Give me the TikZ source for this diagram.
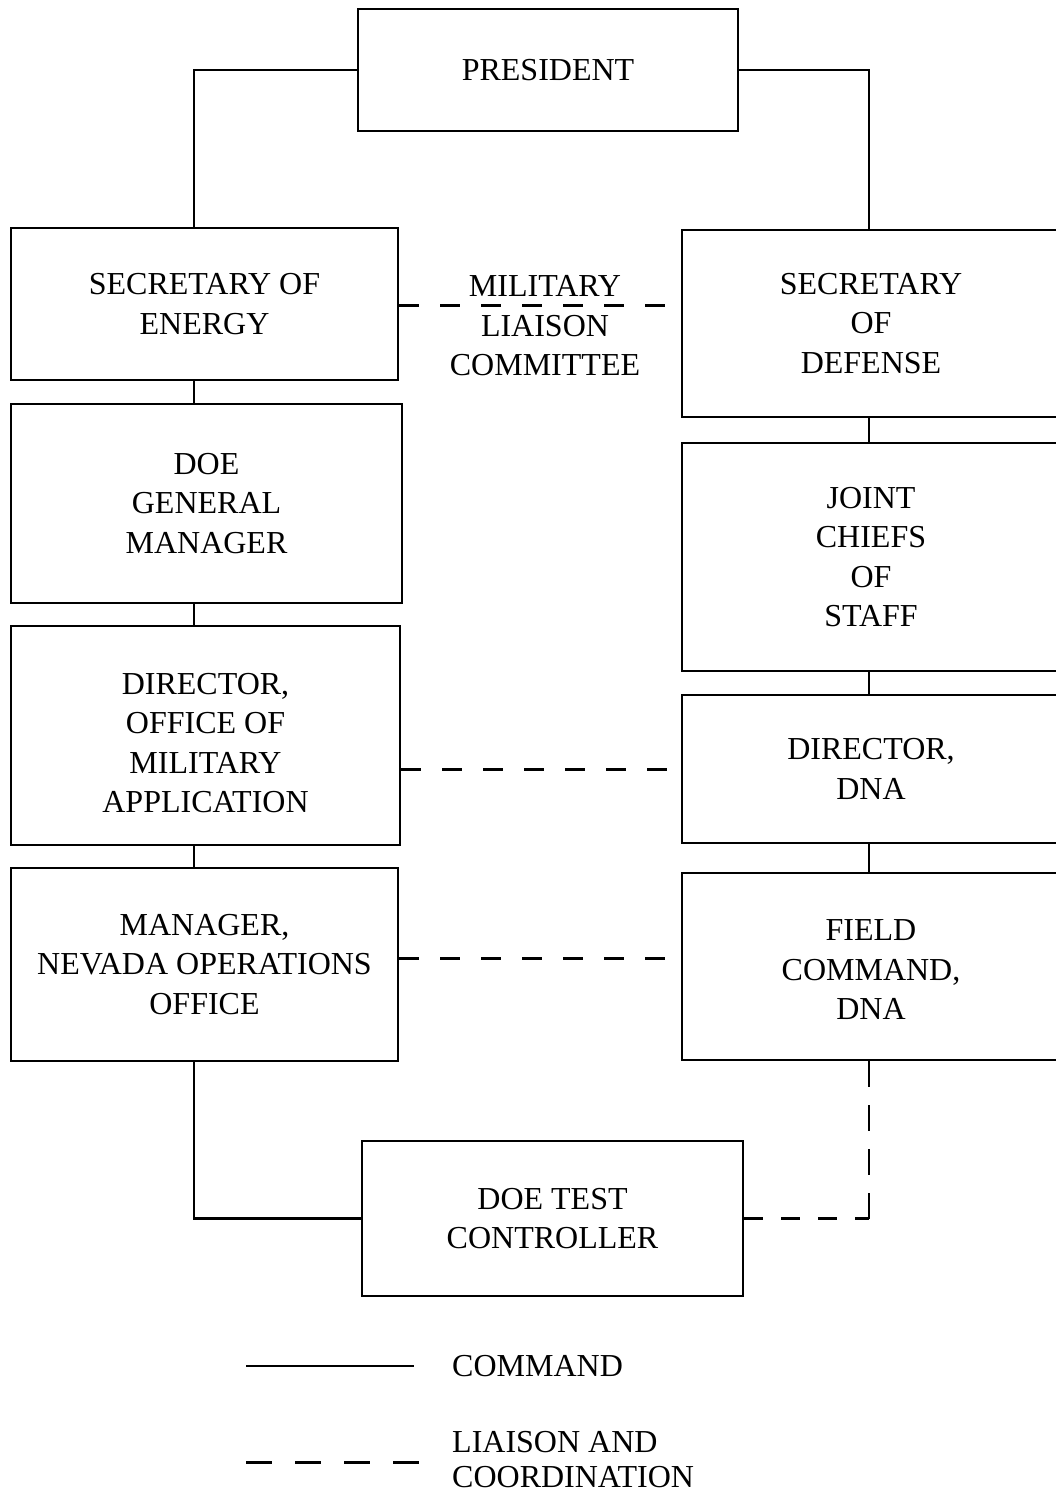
\documentclass[tikz,border=0pt]{standalone}
\usepackage{fontspec}
\setmainfont{Liberation Serif}
\begin{document}
\begin{tikzpicture}[x=1pt,y=-1pt,
  txt/.style={font=\fontsize{32}{39.5}\selectfont},
  box/.style={draw, line width=2.8pt, align=center, inner sep=0pt, txt},
  cmd/.style={line width=2.6pt},
  liaison/.style={line width=3pt, dash pattern=on 20pt off 21pt},
  vliaison/.style={line width=2.6pt, dash pattern=on 26pt off 18pt},
  hliaison/.style={line width=3pt, dash pattern=on 19pt off 18pt},
  legdash/.style={line width=3pt, dash pattern=on 26pt off 23pt}]
\clip (0,0) rectangle (1056,1491);
\fill[white] (0,0) rectangle (1056,1491);

% boxes
\node[box, minimum width=380pt, minimum height=122pt] (pres) at (548,70) {PRESIDENT};
\node[box, minimum width=387pt, minimum height=152pt] (seceng) at (204.5,304) {SECRETARY OF\\ENERGY};
\node[box, minimum width=378pt, minimum height=187pt] (secdef) at (871,323.5) {SECRETARY\\OF\\DEFENSE};
\node[box, minimum width=391pt, minimum height=199pt] (doegm) at (206.5,503.5) {DOE\\GENERAL\\MANAGER};
\node[box, minimum width=378pt, minimum height=228pt] (jcs) at (871,557) {JOINT\\CHIEFS\\OF\\STAFF};
\node[box, minimum width=389pt, minimum height=219pt] (oma) at (205.5,735.5) {\rule{0pt}{36pt}DIRECTOR,\\OFFICE OF\\MILITARY\\APPLICATION};
\node[box, minimum width=378pt, minimum height=148pt] (dna) at (871,769) {DIRECTOR,\\DNA};
\node[box, minimum width=387pt, minimum height=193pt] (nvo) at (204.5,964.5) {MANAGER,\\NEVADA OPERATIONS\\OFFICE};
\node[box, minimum width=378pt, minimum height=187pt] (fc) at (871,966.5) {\rule{0pt}{28pt}FIELD\\COMMAND,\\DNA};
\node[box, minimum width=381pt, minimum height=155pt] (dtc) at (552.5,1218.5) {DOE TEST\\CONTROLLER};

% label between secretaries
\node[txt, align=center, inner sep=0pt] (mlc) at (545,326) {MILITARY\\LIAISON\\COMMITTEE};

% helper coordinates
\coordinate (xL) at (194,0);
\coordinate (xR) at (869,0);
\coordinate (yM) at (0,305);
\coordinate (yN) at (0,958);

% command lines
\draw[cmd] (pres.west) -| (seceng.north -| xL);
\draw[cmd] (pres.east) -| (secdef.north -| xR);
\draw[cmd] (seceng.south -| xL) -- (doegm.north -| xL);
\draw[cmd] (doegm.south -| xL) -- (oma.north -| xL);
\draw[cmd] (oma.south -| xL) -- (nvo.north -| xL);
\draw[cmd] (secdef.south -| xR) -- (jcs.north -| xR);
\draw[cmd] (jcs.south -| xR) -- (dna.north -| xR);
\draw[cmd] (dna.south -| xR) -- (fc.north -| xR);
\draw[cmd] (nvo.south -| xL) |- (dtc.west);

% liaison lines
\draw[liaison] (seceng.east |- yM) -- (secdef.west |- yM);
\draw[liaison] (oma.east |- dna.west) -- (dna.west);
\draw[liaison] (nvo.east |- yN) -- (fc.west |- yN);
\coordinate (corner) at (fc.south -| xR);
\draw[vliaison] (fc.south -| xR) -- (corner |- dtc.east);
\draw[hliaison] (dtc.east) -- (corner |- dtc.east);

% legend
\coordinate (la) at (246,1366);
\coordinate (lb) at (414,1366);
\coordinate (lc) at (246,1462);
\coordinate (ld) at (420,1462);
\draw[cmd] (la) -- (lb);
\draw[legdash] (lc) -- (ld);
\node[txt, anchor=west, inner sep=0pt] (lcmd) at (452,1366) {COMMAND};
\node[font=\fontsize{32}{35}\selectfont, anchor=base west, align=left, inner sep=0pt] (lliai) at (452,1487) {LIAISON AND\\COORDINATION};
\end{tikzpicture}
\end{document}
